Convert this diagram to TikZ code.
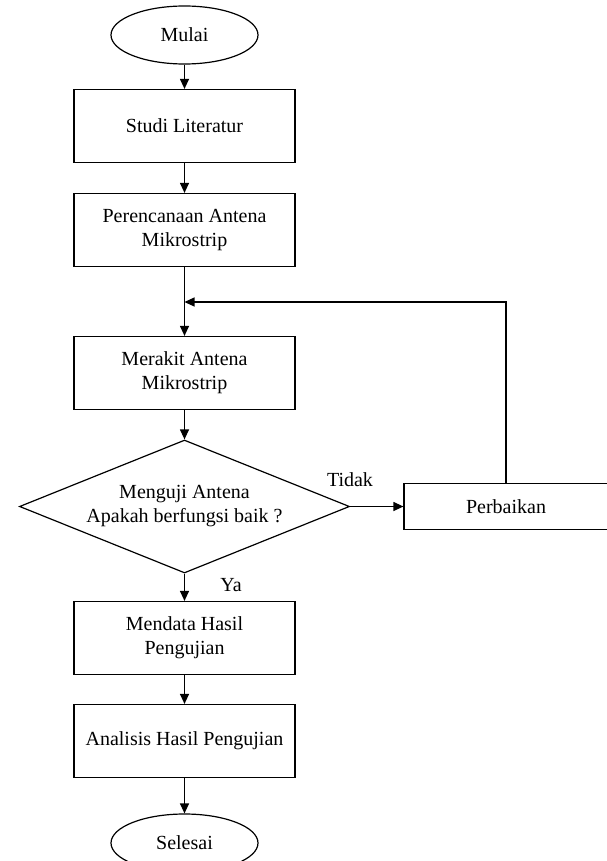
\documentclass[tikz,border=0pt]{standalone}
\usepackage{fontspec}
\setmainfont{Liberation Serif}
\usepackage{tikz}
\usetikzlibrary{arrows.meta, shapes.geometric}

\begin{document}
\begin{tikzpicture}[->,>={Triangle[length=10pt,width=9pt]},x=1pt,y=-1pt,
  line width=1.2pt,font=\fontsize{20}{24}\selectfont,
  proc node/.style={rectangle,draw,align=center,
  minimum width=221pt,minimum height=73pt,inner sep=0pt},
  term node/.style={ellipse,draw,minimum width=147pt,minimum height=58pt,inner sep=0pt},
  dec node/.style={diamond,draw,align=center,aspect=2.48,
  minimum width=330pt,minimum height=133pt,inner sep=0pt}]
  \useasboundingbox (0,0) rectangle (606,861);

  \node[term node] (mulai) at (184.5,35) {Mulai};
  \node[proc node] (studi) at (184.5,126) {Studi Literatur};
  \node[proc node] (rencana) at (184.5,230) {Perencanaan Antena\\Mikrostrip};
  \node[proc node] (rakit) at (184.5,373) {Merakit Antena\\Mikrostrip};
  \node[dec node] (uji) at (184.5,506.5) {Menguji Antena\\Apakah berfungsi baik ?};
  \node[proc node, minimum width=204pt, minimum height=46pt] (perbaikan) at (506,506.5) {Perbaikan};
  \node[proc node] (mendata) at (184.5,638) {Mendata Hasil\\Pengujian};
  \node[proc node] (analisis) at (184.5,741) {Analisis Hasil Pengujian};
  \node[term node] (selesai) at (184.5,843) {Selesai};

  \node[] (tidak) at (350,480) {Tidak};
  \node[] (ya) at (231,585) {Ya};
  \coordinate (balik) at (184.5,302);

  \path
     (mulai) edge (studi)
     (studi) edge (rencana)
     (rencana) edge (rakit)
     (rakit) edge (uji)
     (uji.east) edge (perbaikan.west)
     (uji) edge (mendata)
     (mendata) edge (analisis)
     (analisis) edge (selesai)
     (perbaikan.north) edge [to path={|- (\tikztotarget)}] (balik);
\end{tikzpicture}
\end{document}
